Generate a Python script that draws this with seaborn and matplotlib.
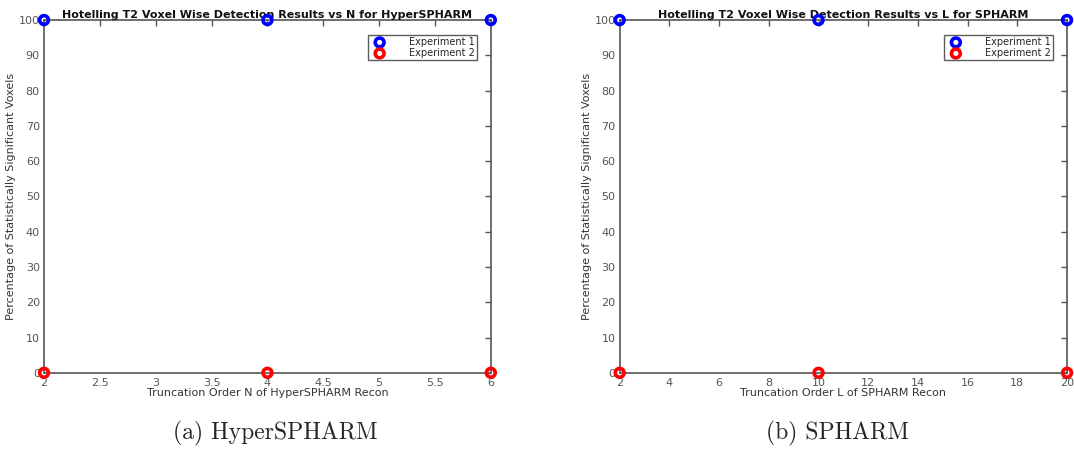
import matplotlib
matplotlib.use("Agg")
from matplotlib import pyplot as plt
import seaborn as sns
import pandas as pd

# data
hyper_orders = [2, 4, 6]
spharm_orders = [2, 10, 20]
exp1_pct = [100, 100, 100]
exp2_pct = [0, 0, 0]

series_names = ["Experiment 1", "Experiment 2"]
series_colors = ["#0000ff", "#ff0000"]

sns.set_style("white")
plt.rcParams["font.family"] = ["DejaVu Sans"]

fig = plt.figure(figsize=(10.74, 4.66), dpi=100)
ax_a = fig.add_axes([0.041, 0.2, 0.416, 0.757])
ax_b = fig.add_axes([0.577, 0.2, 0.4165, 0.757])

panels = [
    (ax_a, hyper_orders, "Hotelling T2 Voxel Wise Detection Results vs N for HyperSPHARM",
     "Truncation Order N of HyperSPHARM Recon", [2, 2.5, 3, 3.5, 4, 4.5, 5, 5.5, 6],
     ["2", "2.5", "3", "3.5", "4", "4.5", "5", "5.5", "6"]),
    (ax_b, spharm_orders, "Hotelling T2 Voxel Wise Detection Results vs L for SPHARM",
     "Truncation Order L of SPHARM Recon", list(range(2, 21, 2)),
     [str(v) for v in range(2, 21, 2)]),
]

gray = "#555555"
for ax, orders, title, xlabel, xticks, xticklabels in panels:
    df = pd.DataFrame({
        "order": orders * 2,
        "pct": exp1_pct + exp2_pct,
        "series": [series_names[0]] * len(orders) + [series_names[1]] * len(orders),
    })
    for name, color in zip(series_names, series_colors):
        sub = df[df["series"] == name]
        sns.scatterplot(data=sub, x="order", y="pct", ax=ax, marker="o", s=40,
                        facecolors="none", edgecolor=color, linewidth=2.6,
                        label=name, clip_on=False, zorder=5)
    ax.set_xlim(orders[0], orders[-1])
    ax.set_ylim(0, 100)
    ax.set_xticks(xticks)
    ax.set_xticklabels(xticklabels)
    ax.set_yticks(range(0, 101, 10))
    ax.tick_params(direction="in", length=4, width=1, colors=gray, labelsize=8,
                   top=True, right=True)
    ax.tick_params(axis="x", pad=4)
    ax.tick_params(axis="y", pad=3)
    for sp in ax.spines.values():
        sp.set_color(gray)
        sp.set_linewidth(1.2)
    ax.set_title(title, fontsize=8, fontweight="bold", pad=1.5, color="#111111")
    ax.set_xlabel(xlabel, fontsize=8, color="#333333", labelpad=0)
    ax.set_ylabel("Percentage of Statistically Significant Voxels", fontsize=8,
                  color="#333333", labelpad=2)
    leg = ax.legend(loc="upper right", fontsize=7, frameon=True, fancybox=False,
                    borderpad=0.2, handletextpad=2.0, labelspacing=0.1,
                    borderaxespad=1.0, bbox_to_anchor=(0.99, 0.985))
    leg.get_frame().set_edgecolor("#333333")
    leg.get_frame().set_linewidth(1)

fig.text(0.256, 0.07, "(a) HyperSPHARM", ha="center", va="center", fontsize=17,
         family=["cmr10", "DejaVu Serif"])
fig.text(0.78, 0.07, "(b) SPHARM", ha="center", va="center", fontsize=17,
         family=["cmr10", "DejaVu Serif"])

fig.savefig("out.png", dpi=100)
